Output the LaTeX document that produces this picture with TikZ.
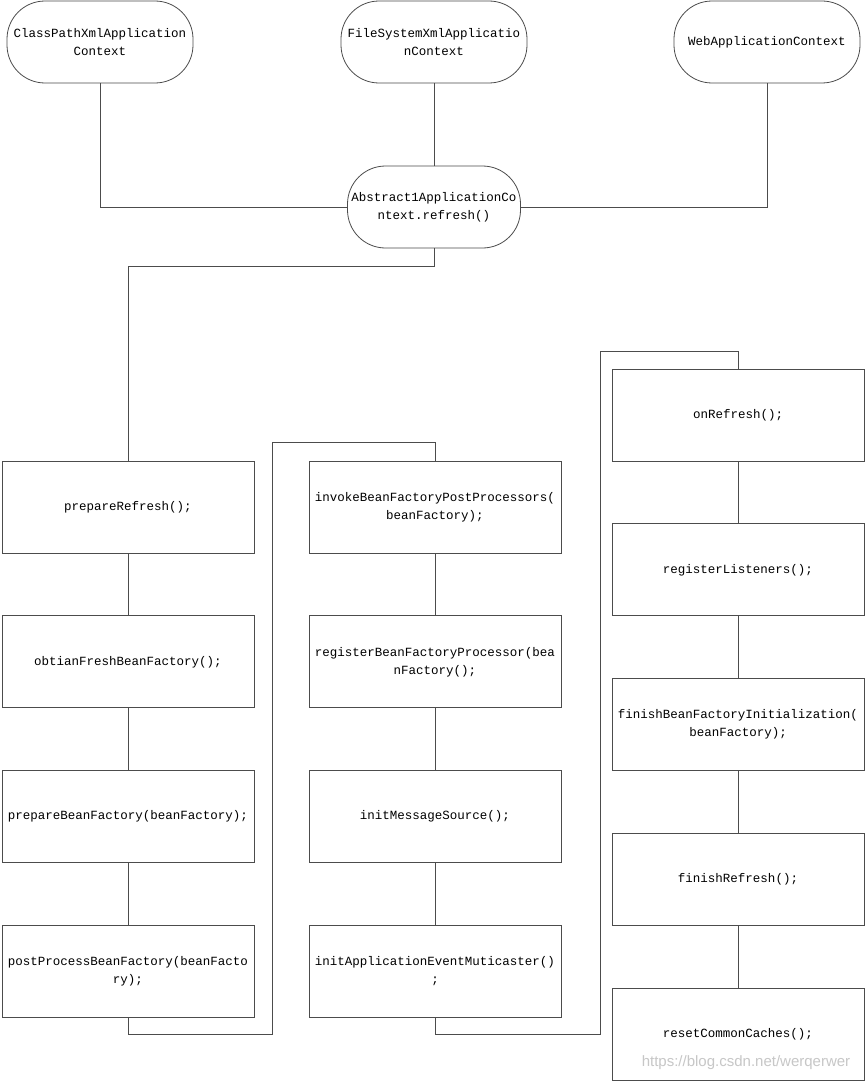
\documentclass[tikz,border=0pt]{standalone}
\usepackage{fontspec}
\setmonofont{Liberation Mono}
\setsansfont{Liberation Sans}
\usepackage{tikz}
\usetikzlibrary{positioning}
\tikzset{
  ln/.style   ={draw=black!70, line width=0.8pt},
  ctx/.style  ={ln, rounded corners=38pt, minimum width=186pt, minimum height=82pt,
                inner sep=1pt, align=center, font=\fontsize{12.5}{18}\ttfamily},
  blk/.style  ={ln, minimum width=252pt, minimum height=92pt,
                inner sep=1pt, align=center, font=\fontsize{12.5}{18}\ttfamily},
  wm/.style   ={text=black!22, font=\fontsize{15}{18}\sffamily}
}

\begin{document}
\begin{tikzpicture}[x=1pt, y=1pt, node distance=62pt]
\useasboundingbox[fill=white] (0,0) rectangle (866,-1081);

% contexts
\node[ctx] (cp)  at (100,-42) {ClassPathXmlApplication\\Context};
\node[ctx] (fs)  at (434,-42) {FileSystemXmlApplicatio\\nContext};
\node[ctx] (web) at (767,-42) {WebApplicationContext};
\node[ctx, minimum width=173pt] (abs) at (434,-207) {Abstract1ApplicationCo\\ntext.refresh()};

% first column
\node[blk] (pr) at (128,-507) {prepareRefresh();};
\node[blk, below=of pr] (obf) {obtianFreshBeanFactory();};
\node[blk, below=of obf] (pbf) {prepareBeanFactory(beanFactory);};
\node[blk, below=of pbf] (ppbf) {postProcessBeanFactory(beanFacto\\ry);};

% second column
\node[blk] (ibfpp) at (435,-507) {invokeBeanFactoryPostProcessors(\\beanFactory);};
\node[blk, below=of ibfpp] (rbfp) {registerBeanFactoryProcessor(bea\\nFactory();};
\node[blk, below=of rbfp] (ims) {initMessageSource();};
\node[blk, below=of ims] (iaem) {initApplicationEventMuticaster()\\;};

% third column
\node[blk] (onr) at (738,-415) {onRefresh();};
\node[blk, below=of onr] (rl) {registerListeners();};
\node[blk, below=of rl] (fbfi) {finishBeanFactoryInitialization(\\beanFactory);};
\node[blk, below=of fbfi] (fr) {finishRefresh();};
\node[blk, below=of fr] (rcc) {resetCommonCaches();};

\node[wm] (mark) at (746,-1063) {https://blog.csdn.net/werqerwer};

% bends
\coordinate (j1) at (434,-266);
\coordinate (l1) at (272,-1034);
\coordinate (l2) at (272,-442);
\coordinate (m1) at (600,-1034);
\coordinate (m2) at (600,-351);

% connectors
\draw[ln] (cp.south) |- (abs.west);
\draw[ln] (fs) -- (abs);
\draw[ln] (web.south) |- (abs.east);
\draw[ln] (abs.south) -- (j1) -| (pr.north);
\draw[ln] (pr) -- (obf);
\draw[ln] (obf) -- (pbf);
\draw[ln] (pbf) -- (ppbf);
\draw[ln] (ppbf.south) |- (l1) -- (l2) -| (ibfpp.north);
\draw[ln] (ibfpp) -- (rbfp);
\draw[ln] (rbfp) -- (ims);
\draw[ln] (ims) -- (iaem);
\draw[ln] (iaem.south) |- (m1) -- (m2) -| (onr.north);
\draw[ln] (onr) -- (rl);
\draw[ln] (rl) -- (fbfi);
\draw[ln] (fbfi) -- (fr);
\draw[ln] (fr) -- (rcc);
\end{tikzpicture}
\end{document}
